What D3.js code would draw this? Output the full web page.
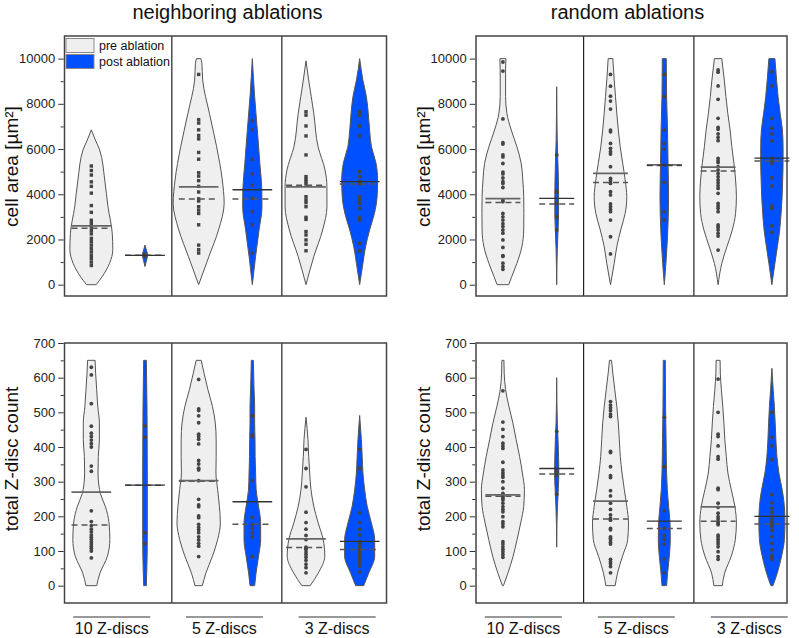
<!DOCTYPE html>
<html>
<head>
<meta charset="utf-8">
<script src="https://cdn.jsdelivr.net/npm/d3@7"></script>
<style>
  body { margin: 0; background: #fff; }
  svg { font-family: "Liberation Sans", Arial, sans-serif; }
</style>
</head>
<body>
<div id="chart"></div>
<script>
// ---------- labels ----------
var titles = ["neighboring ablations", "random ablations"];
var groups = ["10 Z-discs", "5 Z-discs", "3 Z-discs"];
var conditions = ["pre ablation", "post ablation"];
var areaTicks = [0, 2000, 4000, 6000, 8000, 10000];
var countTicks = [0, 100, 200, 300, 400, 500, 600, 700];

// ---------- neighboring ablations, cell area ----------
var nbArea10Pre = [5250, 5050, 4850, 4550, 4350, 4050, 3500, 3200, 2850, 2700, 2550, 2400, 2250, 2050, 1900, 1750, 1600, 1450, 1300, 1150, 1000, 850];
var nbArea10Post = [1250, 1350];
var nbArea5Pre = [9300, 7300, 7150, 6850, 6600, 6450, 5850, 5550, 4950, 4800, 4600, 4350, 4100, 3800, 3700, 3450, 3300, 3150, 2650, 1750, 1550, 1400];
var nbArea5Post = [7250, 6850, 5550, 4900, 4400, 3820, 3230, 2640, 1390];
var nbArea3Pre = [7650, 7500, 7020, 6580, 5740, 4780, 4660, 4560, 4450, 3890, 3750, 3630, 3450, 2980, 2890, 2350, 2200, 1980, 1790, 1500];
var nbArea3Post = [7650, 7500, 7020, 6580, 5000, 4780, 4560, 4450, 3890, 3750, 3600, 3380, 2980, 2860, 1830, 1500];
var nbAreaMean = [2600, 1300, 4330, 4200, 4330, 4560];
var nbAreaMedian = [2500, 1300, 3790, 3790, 4400, 4450];
// violin outlines: [value, half width in category units]
var nbArea10PreShape = [[0, 0.09], [350, 0.2], [950, 0.34], [1550, 0.40], [2270, 0.39], [3450, 0.31], [4630, 0.25], [5960, 0.155], [6400, 0.075], [6850, 0]];
var nbArea10PostShape = [[800, 0], [1100, 0.03], [1300, 0.05], [1500, 0.03], [1750, 0]];
var nbArea5PreShape = [[0, 0], [1240, 0.19], [2420, 0.37], [3600, 0.475], [4630, 0.44], [6100, 0.335], [7580, 0.2], [9050, 0.075], [9800, 0.06], [10000, 0.04]];
var nbArea5PostShape = [[0, 0], [1240, 0.06], [2420, 0.125], [3450, 0.18], [4190, 0.177], [5370, 0.14], [6840, 0.093], [8320, 0.043], [10000, 0]];
var nbArea3PreShape = [[0, 0], [1240, 0.145], [2420, 0.31], [3450, 0.39], [4340, 0.39], [5070, 0.355], [6100, 0.225], [7580, 0.145], [9050, 0.05], [9900, 0]];
var nbArea3PostShape = [[0, 0], [940, 0.06], [1680, 0.11], [2420, 0.185], [3150, 0.275], [3890, 0.325], [4630, 0.335], [5370, 0.305], [6100, 0.22], [6840, 0.185], [7580, 0.16], [8320, 0.125], [9050, 0.06], [10000, 0]];

// ---------- random ablations, cell area ----------
var rdArea10Pre = [9850, 9450, 7330, 6280, 6220, 5740, 5650, 5360, 4980, 4900, 4720, 4560, 4480, 4300, 3750, 3670, 3150, 3000, 2860, 2700, 2570, 2420, 2280, 1980, 1650, 1290, 1250, 950, 800, 680];
var rdArea10Post = [5740, 4110, 3600, 3000, 2420];
var rdArea5Pre = [9300, 8780, 8340, 8120, 7770, 6840, 6760, 6250, 6030, 5880, 5780, 5220, 4700, 4600, 4480, 4110, 3970, 3570, 3450, 3330, 3230, 2860, 2120, 1360];
var rdArea5Post = [9300, 8320, 6840, 6250, 6000, 5290, 4530, 3230, 2860];
var rdArea3Pre = [9500, 9400, 8790, 8200, 7360, 6960, 6870, 6670, 6520, 6370, 5590, 5480, 5400, 5220, 5070, 4920, 4780, 4630, 4510, 4380, 4260, 4040, 3600, 3480, 3380, 3230, 2640, 2540, 2420, 2270, 2150, 1530];
var rdArea3Post = [9420, 8790, 7360, 6920, 6670, 6360, 5590, 5440, 5370, 4730, 4370, 3480, 3380, 2600, 2320];
var rdAreaMean = [3810, 3820, 4920, 5300, 5200, 5600];
var rdAreaMedian = [3640, 3570, 4520, 5270, 5030, 5470];
var rdArea10PreShape = [[0, 0.108], [355, 0.164], [944, 0.26], [1680, 0.353], [2420, 0.387], [3155, 0.39], [3893, 0.387], [4631, 0.37], [5369, 0.34], [6105, 0.26], [6842, 0.155], [7580, 0.074], [8316, 0.05], [9500, 0.05], [10000, 0.056]];
var rdArea10PostShape = [[0, 0], [900, 0.005], [1600, 0.012], [2400, 0.025], [3200, 0.035], [4000, 0.035], [4800, 0.03], [5600, 0.02], [6400, 0.01], [7500, 0.004], [8760, 0]];
var rdArea5PreShape = [[0, 0], [944, 0.069], [1680, 0.117], [2420, 0.19], [3155, 0.273], [3893, 0.303], [4631, 0.273], [5369, 0.227], [6105, 0.18], [6842, 0.145], [7580, 0.117], [8316, 0.093], [9054, 0.069], [10000, 0.043]];
var rdArea5PostShape = [[0, 0], [944, 0.03], [2124, 0.06], [3008, 0.074], [3893, 0.08], [5369, 0.07], [6842, 0.06], [8316, 0.043], [10000, 0.037]];
var rdArea3PreShape = [[0, 0], [944, 0.069], [1680, 0.164], [2420, 0.264], [3155, 0.325], [3893, 0.34], [4631, 0.325], [5369, 0.294], [6105, 0.255], [6842, 0.223], [7580, 0.18], [8316, 0.145], [9054, 0.115], [10000, 0.069]];
var rdArea3PostShape = [[0, 0], [944, 0.056], [1680, 0.102], [2420, 0.145], [3155, 0.171], [3893, 0.19], [4631, 0.2], [5369, 0.208], [6105, 0.208], [6842, 0.195], [7580, 0.154], [8316, 0.115], [9054, 0.087], [10000, 0.056]];

// ---------- neighboring ablations, Z-disc count ----------
var nbCount10Pre = [630, 608, 525, 460, 440, 430, 420, 410, 400, 345, 330, 216, 185, 173, 163, 155, 146, 140, 133, 126, 120, 113, 107, 100, 80];
var nbCount10Post = [461, 428, 153, 122];
var nbCount5Pre = [595, 510, 505, 490, 470, 437, 430, 422, 409, 361, 351, 339, 334, 303, 249, 233, 228, 201, 196, 177, 168, 161, 153, 141, 132, 122, 114, 84];
var nbCount5Post = [490, 435, 430, 303, 197, 176, 165, 153, 141, 84];
var nbCount3Pre = [393, 338, 285, 212, 182, 163, 145, 133, 111, 108, 104, 97, 90, 82, 73, 62, 52, 37];
var nbCount3Post = [393, 338, 210, 182, 162, 146, 127, 120, 112, 105, 98, 91, 86, 79, 72, 66, 57, 39];
var nbCountMean = [270, 290, 303, 242, 135, 128];
var nbCountMedian = [175, 290, 301, 177, 110, 104];
var nbCount10PreShape = [[0, 0.1], [36, 0.16], [85, 0.3], [133, 0.345], [181, 0.33], [229, 0.26], [265, 0.17], [290, 0.14], [325, 0.125], [373, 0.13], [421, 0.15], [469, 0.15], [517, 0.12], [565, 0.1], [613, 0.08], [650, 0.07]];
var nbCount10PostShape = [[0, 0.025], [36, 0.032], [133, 0.043], [325, 0.043], [517, 0.037], [650, 0.025]];
var nbCount5PreShape = [[0, 0.069], [36, 0.134], [85, 0.257], [133, 0.354], [181, 0.404], [229, 0.386], [277, 0.354], [325, 0.322], [373, 0.326], [421, 0.326], [469, 0.31], [517, 0.257], [565, 0.173], [613, 0.1], [650, 0.047]];
var nbCount5PostShape = [[0, 0.043], [36, 0.069], [85, 0.116], [133, 0.155], [181, 0.155], [229, 0.116], [277, 0.071], [325, 0.061], [373, 0.052], [421, 0.05], [469, 0.043], [517, 0.043], [565, 0.032], [650, 0.019]];
var nbCount3PreShape = [[0, 0.078], [36, 0.227], [85, 0.35], [133, 0.32], [181, 0.227], [229, 0.145], [277, 0.093], [325, 0.069], [373, 0.05], [421, 0.037], [486, 0]];
var nbCount3PostShape = [[0, 0.075], [36, 0.168], [85, 0.28], [133, 0.28], [181, 0.218], [229, 0.14], [277, 0.093], [325, 0.061], [373, 0.047], [421, 0.032], [491, 0]];

// ---------- random ablations, Z-disc count ----------
var rdCount10Pre = [562, 472, 451, 430, 411, 403, 396, 356, 334, 326, 319, 313, 300, 281, 266, 262, 257, 252, 247, 238, 228, 220, 213, 199, 185, 178, 170, 127, 120, 112, 105, 98, 90, 82];
var rdCount10Post = [445, 329, 324, 319, 264];
var rdCount5Pre = [531, 521, 513, 505, 495, 488, 387, 384, 343, 317, 312, 274, 259, 238, 220, 204, 194, 189, 165, 161, 141, 137, 132, 125, 120, 76, 69, 63, 55, 37];
var rdCount5Post = [486, 343, 216, 165, 146, 134, 120, 77, 37];
var rdCount3Pre = [596, 500, 437, 430, 403, 372, 365, 281, 277, 238, 226, 209, 199, 192, 185, 180, 176, 146, 141, 134, 127, 120, 112, 98, 84, 76];
var rdCount3Post = [500, 428, 403, 364, 263, 239, 223, 212, 200, 190, 183, 176, 169, 159, 141, 122, 103, 88, 82, 76];
var rdCountMean = [262, 338, 244, 186, 227, 200];
var rdCountMedian = [258, 322, 192, 165, 186, 178];
var rdCount10PreShape = [[0, 0.01], [36, 0.093], [85, 0.19], [133, 0.264], [181, 0.331], [229, 0.387], [277, 0.4], [325, 0.362], [373, 0.31], [421, 0.247], [469, 0.186], [517, 0.112], [565, 0.05], [613, 0.024], [650, 0.019]];
var rdCount10PostShape = [[111, 0], [180, 0.005], [230, 0.015], [280, 0.03], [325, 0.04], [370, 0.035], [420, 0.025], [470, 0.012], [530, 0.004], [600, 0]];
var rdCount5PreShape = [[0, 0.087], [36, 0.13], [85, 0.223], [133, 0.32], [181, 0.335], [229, 0.303], [277, 0.257], [325, 0.214], [373, 0.182], [421, 0.164], [469, 0.145], [517, 0.117], [565, 0.08], [613, 0.043], [650, 0.019]];
var rdCount5PostShape = [[0, 0.043], [36, 0.061], [85, 0.093], [133, 0.112], [181, 0.106], [229, 0.08], [277, 0.056], [325, 0.043], [421, 0.033], [517, 0.024], [650, 0.019]];
var rdCount3PreShape = [[0, 0.078], [36, 0.121], [85, 0.245], [133, 0.32], [181, 0.34], [229, 0.312], [277, 0.245], [325, 0.182], [373, 0.152], [421, 0.125], [469, 0.108], [517, 0.087], [565, 0.061], [613, 0.041], [650, 0.037]];
var rdCount3PostShape = [[0, 0.02], [36, 0.099], [85, 0.18], [133, 0.232], [181, 0.242], [229, 0.232], [277, 0.191], [325, 0.13], [373, 0.093], [421, 0.074], [469, 0.061], [517, 0.046], [565, 0.024], [627, 0]];

// ---------- layout ----------
var svgWidth = 799;
var svgHeight = 638;
var preFill = "#efefef";
var postFill = "#0050ff";

var svg = d3.select("#chart")
    .append("svg")
    .attr("width", svgWidth)
    .attr("height", svgHeight);

// one x scale per column (positions 1..6 = pre/post for each group)
var columns = [
    {x: d3.scaleLinear().domain([0.5, 6.5]).range([64.5, 386.5]), right: 386.5, titleX: 227.5, labelX: 18, half: 0.37},
    {x: d3.scaleLinear().domain([0.5, 6.5]).range([476, 798.8]), right: 787, titleX: 627.5, labelX: 430, half: 0.325}
];
var rows = [
    {label: "cell area [µm²]", y: d3.scaleLinear().domain([-500, 11000]).range([296, 36]), ticks: areaTicks, minorStep: 1000, labelY: 166.5},
    {label: "total Z-disc count", y: d3.scaleLinear().domain([-50, 700]).range([603, 343]), ticks: countTicks, minorStep: 50, labelY: 459}
];
var dividerAt = [2.5, 4.55];
var groupAt = [1.38, 3.48, 5.58];

var panels = [
    {col: 0, row: 0, square: true,
     points: [nbArea10Pre, nbArea10Post, nbArea5Pre, nbArea5Post, nbArea3Pre, nbArea3Post],
     shapes: [nbArea10PreShape, nbArea10PostShape, nbArea5PreShape, nbArea5PostShape, nbArea3PreShape, nbArea3PostShape],
     mean: nbAreaMean, median: nbAreaMedian},
    {col: 1, row: 0,
     points: [rdArea10Pre, rdArea10Post, rdArea5Pre, rdArea5Post, rdArea3Pre, rdArea3Post],
     shapes: [rdArea10PreShape, rdArea10PostShape, rdArea5PreShape, rdArea5PostShape, rdArea3PreShape, rdArea3PostShape],
     mean: rdAreaMean, median: rdAreaMedian},
    {col: 0, row: 1,
     points: [nbCount10Pre, nbCount10Post, nbCount5Pre, nbCount5Post, nbCount3Pre, nbCount3Post],
     shapes: [nbCount10PreShape, nbCount10PostShape, nbCount5PreShape, nbCount5PostShape, nbCount3PreShape, nbCount3PostShape],
     mean: nbCountMean, median: nbCountMedian},
    {col: 1, row: 1,
     points: [rdCount10Pre, rdCount10Post, rdCount5Pre, rdCount5Post, rdCount3Pre, rdCount3Post],
     shapes: [rdCount10PreShape, rdCount10PostShape, rdCount5PreShape, rdCount5PostShape, rdCount3PreShape, rdCount3PostShape],
     mean: rdCountMean, median: rdCountMedian}
];

function drawPanel(p) {
    var col = columns[p.col];
    var row = rows[p.row];
    var x = col.x;
    var y = row.y;
    var left = x.range()[0];
    var top = y.range()[1];
    var bottom = y.range()[0];
    var g = svg.append("g");

    // violins
    p.shapes.forEach(function(shape, i) {
        var pos = i + 1;
        var area = d3.area()
            .curve(d3.curveMonotoneY)
            .y(d => y(d[0]))
            .x0(d => x(pos - d[1]))
            .x1(d => x(pos + d[1]));
        g.append("path")
            .datum(shape)
            .attr("d", area)
            .attr("fill", i % 2 === 0 ? preFill : postFill)
            .attr("stroke", "#555")
            .attr("stroke-width", 1);
    });

    // data points
    p.points.forEach(function(vals, i) {
        var pos = i + 1;
        if (p.square) {
            g.selectAll(null)
                .data(vals)
                .enter()
                .append("rect")
                .attr("x", x(pos) - 1.7)
                .attr("y", d => y(d) - 1.7)
                .attr("width", 3.4)
                .attr("height", 3.4)
                .attr("fill", "#444");
        } else {
            g.selectAll(null)
                .data(vals)
                .enter()
                .append("circle")
                .attr("cx", x(pos))
                .attr("cy", d => y(d))
                .attr("r", 1.9)
                .attr("fill", "#444");
        }
    });

    // mean (solid) and median (dashed)
    p.median.forEach(function(v, i) {
        var pos = i + 1;
        g.append("line")
            .attr("x1", x(pos - col.half)).attr("x2", x(pos + col.half))
            .attr("y1", y(v)).attr("y2", y(v))
            .attr("stroke", "#555")
            .attr("stroke-width", 1.5)
            .attr("stroke-dasharray", "6,4");
    });
    p.mean.forEach(function(v, i) {
        var pos = i + 1;
        g.append("line")
            .attr("x1", x(pos - col.half)).attr("x2", x(pos + col.half))
            .attr("y1", y(v)).attr("y2", y(v))
            .attr("stroke", i % 2 === 0 ? "#666" : "#333")
            .attr("stroke-width", i % 2 === 0 ? 1.8 : 1.3);
    });

    // group dividers
    dividerAt.forEach(function(d) {
        g.append("line")
            .attr("x1", x(d)).attr("x2", x(d))
            .attr("y1", top).attr("y2", bottom)
            .attr("stroke", "#222")
            .attr("stroke-width", 1.2);
    });

    // frame
    g.append("rect")
        .attr("x", left)
        .attr("y", top)
        .attr("width", col.right - left)
        .attr("height", bottom - top)
        .attr("fill", "none")
        .attr("stroke", "#444")
        .attr("stroke-width", 1.5);

    // y axis: majors with labels, minors without
    var yMax = row.ticks[row.ticks.length - 1];
    var minors = d3.range(row.minorStep, yMax, row.minorStep).filter(v => row.ticks.indexOf(v) < 0);

    var majorAxis = g.append("g")
        .attr("transform", `translate(${left - 0.8}, 0)`)
        .call(d3.axisLeft(y).tickValues(row.ticks).tickSize(5.5).tickPadding(3).tickFormat(d3.format("d")));
    majorAxis.select(".domain").remove();
    majorAxis.selectAll("line").attr("stroke", "#333");
    majorAxis.selectAll("text")
        .attr("fill", "#222")
        .style("font-size", "13px")
        .style("font-family", "'Liberation Sans', Arial, sans-serif");

    var minorAxis = g.append("g")
        .attr("transform", `translate(${left - 0.8}, 0)`)
        .call(d3.axisLeft(y).tickValues(minors).tickSize(3).tickFormat(""));
    minorAxis.select(".domain").remove();
    minorAxis.selectAll("line").attr("stroke", "#333");

    // y label
    g.append("text")
        .attr("transform", `translate(${col.labelX}, ${row.labelY}) rotate(-90)`)
        .attr("text-anchor", "middle")
        .attr("fill", "#111")
        .style("font-size", "19px")
        .text(row.label);

    // group labels under the bottom row
    if (p.row === 1) {
        groupAt.forEach(function(gp, k) {
            var cx = x(gp);
            g.append("line")
                .attr("x1", cx - 38.5).attr("x2", cx + 38.5)
                .attr("y1", 617).attr("y2", 617)
                .attr("stroke", "#333")
                .attr("stroke-width", 1);
            g.append("text")
                .attr("x", cx)
                .attr("y", 634)
                .attr("text-anchor", "middle")
                .attr("fill", "#111")
                .style("font-size", "16px")
                .text(groups[k]);
        });
    }

    // column title above the top row
    if (p.row === 0) {
        g.append("text")
            .attr("x", col.titleX)
            .attr("y", 18.5)
            .attr("text-anchor", "middle")
            .attr("fill", "#111")
            .style("font-size", "20px")
            .text(titles[p.col]);
    }
}

panels.forEach(drawPanel);

// legend inside the first panel
var legend = svg.append("g").attr("transform", "translate(66, 38.5)");
conditions.forEach(function(c, i) {
    legend.append("rect")
        .attr("x", 0)
        .attr("y", i * 16)
        .attr("width", 28)
        .attr("height", 14)
        .attr("fill", i === 0 ? preFill : postFill)
        .attr("stroke", "#888")
        .attr("stroke-width", 1);
    legend.append("text")
        .attr("x", 33)
        .attr("y", i * 16 + 11.5)
        .attr("fill", "#111")
        .style("font-size", "12.5px")
        .text(c);
});
</script>
</body>
</html>
